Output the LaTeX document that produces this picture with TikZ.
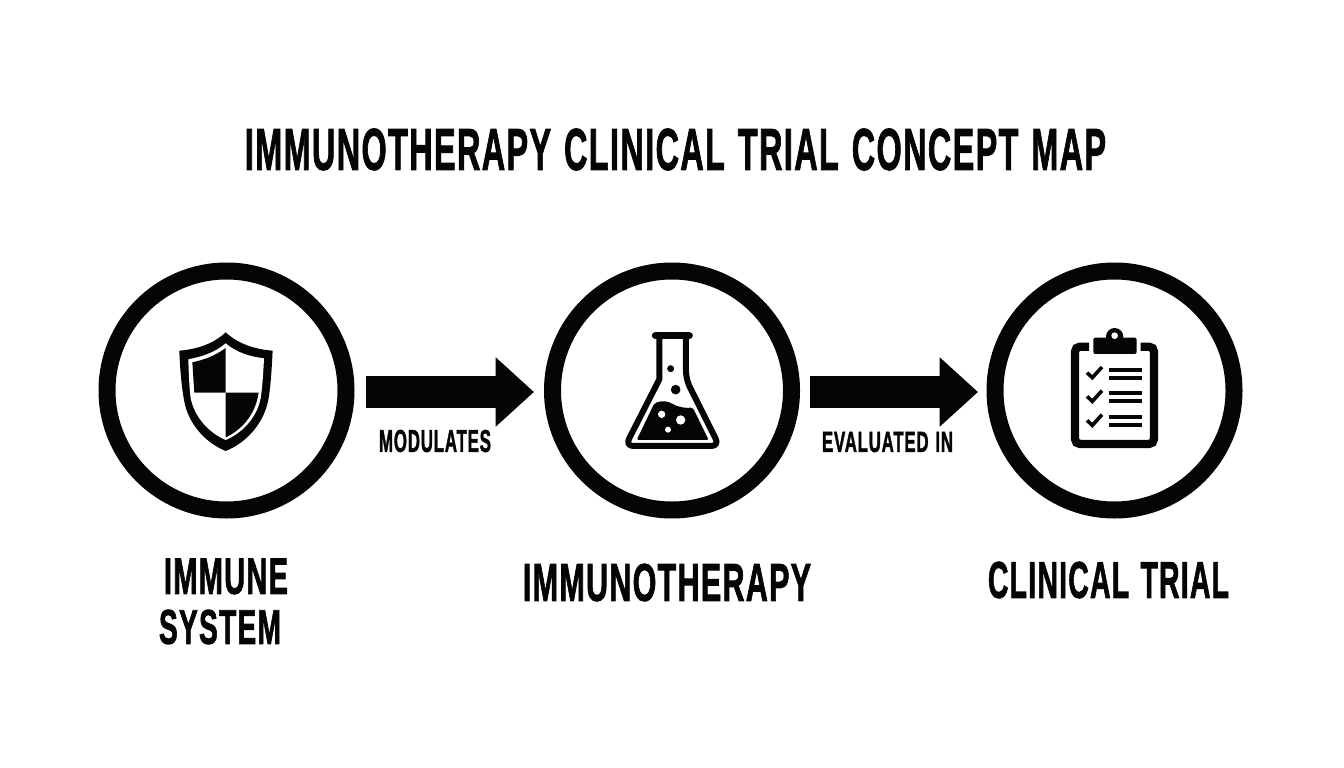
\documentclass[tikz,border=0pt]{standalone}
\usepackage{graphicx}
\usepackage{fontspec}
\usetikzlibrary{arrows.meta}
\newfontfamily\condfont[FakeBold=2,LetterSpace=4.5,WordSpace=1.25]{Liberation Sans Bold}
\definecolor{ink}{HTML}{050505}
\tikzset{
  ring/.style={circle,draw=ink,line width=17pt,fill=white,minimum size=239pt,inner sep=0pt},
  bigarrow/.style={draw=ink,line width=32pt,-{Triangle[length=38.3pt,width=67pt,fill=ink]}},
  fitlabel/.style={inner sep=0pt,outer sep=0pt,text=ink},
  icon/.style={shift={#1},x=0.3333pt,y=-0.3333pt},
  inkfill/.style={fill=ink,draw=none},
  hole/.style={fill=white,draw=none}
}
% name, left, top, right, bottom, text
\newcommand{\fittext}[6]{%
  \pgfmathsetmacro{\fw}{#4-#2}\pgfmathsetmacro{\fh}{#5-#3}%
  \node[fitlabel] (#1) at ({(#2+#4)/2},{(#3+#5)/2}) {\resizebox{\fw pt}{\fh pt}{\condfont #6}};}
\begin{document}
\begin{tikzpicture}[x=1pt,y=-1pt]
\useasboundingbox (0,0) rectangle (1344,768);
\fill[white] (0,0) rectangle (1344,768);

\fittext{title}{245}{129}{1106}{170}{IMMUNOTHERAPY CLINICAL TRIAL CONCEPT MAP}

\node[ring] (imm) at (226.5,390.5) {};
\node[ring] (med) at (672,390.5) {};
\node[ring] (cli) at (1114.5,390.5) {};

\draw[bigarrow] ([shift={(11.2,1.5)}]imm.east) -- ([shift={(-10,1.5)}]med.west);
\draw[bigarrow] ([shift={(10,1.5)}]med.east) -- ([shift={(-8.5,1.5)}]cli.west);

\fittext{mod}{379}{430}{491}{452}{MODULATES}
\fittext{eva}{822}{432}{953}{452}{EVALUATED IN}
\fittext{lab1a}{164}{559}{288}{594}{IMMUNE}
\fittext{lab1b}{159}{610}{281}{644}{SYSTEM}
\fittext{lab2}{523}{564}{811}{601}{IMMUNOTHERAPY}
\fittext{lab3}{988}{562}{1229}{598}{CLINICAL TRIAL}

% shield
\begin{scope}[icon={(160,320)}]
  \fill[inkfill] (197,37) .. controls (235,72) and (285,88) .. (338,92)
    .. controls (335,150) and (332,200) .. (325,240)
    .. controls (310,315) and (255,370) .. (197,393)
    .. controls (140,370) and (85,315) .. (72,240)
    .. controls (65,200) and (60,150) .. (58,92)
    .. controls (110,88) and (160,72) .. (197,37) -- cycle;
  \fill[hole] (197,70) .. controls (230,98) and (270,110) .. (312,115)
    .. controls (310,160) and (307,200) .. (302,235)
    .. controls (290,295) and (245,340) .. (197,360)
    .. controls (150,340) and (105,295) .. (92,235)
    .. controls (88,200) and (86,160) .. (85,118)
    .. controls (125,110) and (165,98) .. (197,70) -- cycle;
  \fill[inkfill] (197,84) .. controls (165,108) and (130,120) .. (97,127)
    -- (103,218) -- (197,218) -- cycle;
  \fill[inkfill] (197,218) -- (296,218) .. controls (285,290) and (240,332) .. (197,352) -- cycle;
\end{scope}

% flask
\begin{scope}[icon={(600,310)}]
  \draw[ink,line width=6pt,line join=round] (178,78) -- (178,208)
    [rounded corners=8pt] -- (76,408) -- (358,408) -- (258,208) [sharp corners] -- (258,78);
  \draw[ink,line width=7pt,line cap=round] (166,77) -- (268,77);
  \fill[inkfill,rounded corners=2pt] (110,390) -- (163,280)
    .. controls (190,270) and (205,275) .. (222,284)
    .. controls (240,292) and (260,295) .. (278,292)
    -- (326,390) -- cycle;
  \fill[hole] (185,313) circle[radius=11];
  \fill[hole] (242,330) circle[radius=14];
  \fill[hole] (204,359) circle[radius=9];
  \fill[inkfill] (212,176) circle[radius=10.5];
  \fill[inkfill] (227,239) circle[radius=14.5];
\end{scope}

% clipboard
\begin{scope}[icon={(1050,310)}]
  \draw[ink,line width=8.3pt,rounded corners=5pt] (117,110) -- (75,110) -- (75,402) -- (312,402) -- (312,110) -- (272,110);
  \fill[inkfill,rounded corners=2pt] (130,83) rectangle (260,132);
  \fill[inkfill] (194,80) circle[radius=26];
  \fill[hole] (194,77) circle[radius=10];
  \foreach \dy in {0,71,143} {
    \draw[ink,line width=3.6pt] (111,{188+\dy}) -- (127,{203+\dy}) -- (156,{171+\dy});
  }
  \foreach \ly in {180,204,250,274,322,346} {
    \draw[ink,line width=4pt] (177,\ly) -- (275,\ly);
  }
\end{scope}
\end{tikzpicture}
\end{document}
